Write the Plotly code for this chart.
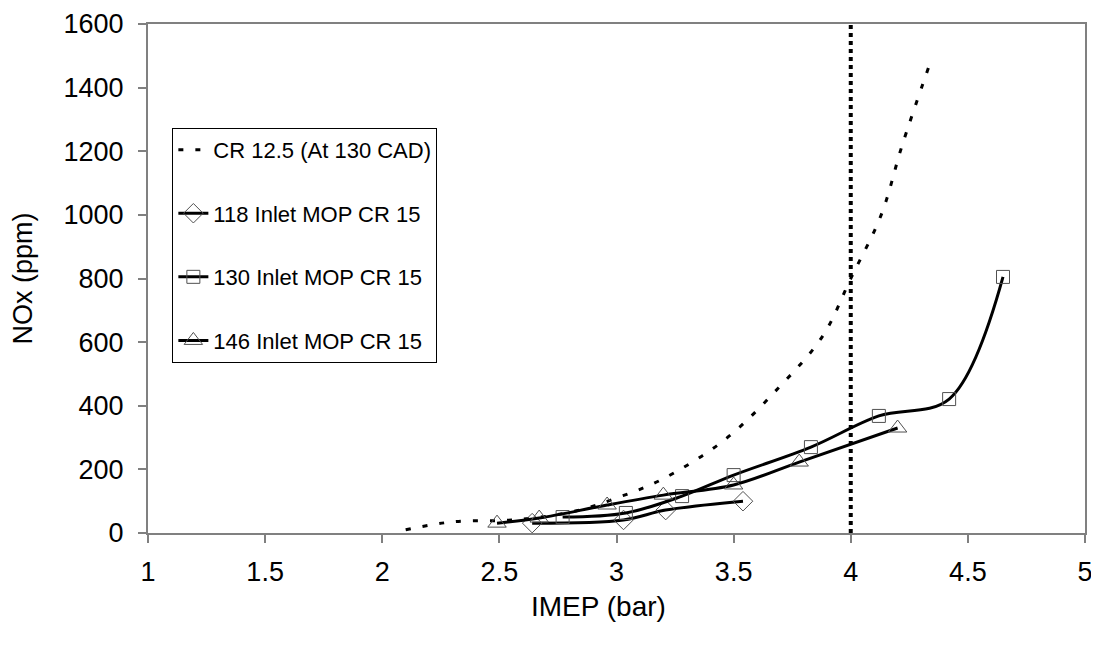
import plotly.graph_objects as go

# CR 12.5 (At 130 CAD) - smoothed dashed curve
cr125_x = [2.10, 2.30, 2.58, 2.83, 3.00, 3.19, 3.46, 3.69, 3.88, 4.00, 4.13, 4.22, 4.34]
cr125_y = [10, 35, 42, 70, 110, 167, 292, 455, 619, 800, 1000, 1220, 1480]

# 118 Inlet MOP CR 15 (diamonds)
s118_x = [2.64, 3.03, 3.21, 3.54]
s118_y = [31, 41, 72, 100]

# 130 Inlet MOP CR 15 (squares)
s130_x = [2.77, 3.04, 3.28, 3.50, 3.83, 4.12, 4.42, 4.65]
s130_y = [50, 63, 116, 182, 270, 368, 421, 805]

# 146 Inlet MOP CR 15 (triangles)
s146_x = [2.49, 2.67, 2.96, 3.20, 3.50, 3.78, 4.20]
s146_y = [31, 47, 88, 119, 151, 223, 330]

# vertical reference line
vline_x = [4, 4]
vline_y = [0, 1600]

x_ticks = [1, 1.5, 2, 2.5, 3, 3.5, 4, 4.5, 5]
y_ticks = [0, 200, 400, 600, 800, 1000, 1200, 1400, 1600]

FONT = "Liberation Sans, Arial, sans-serif"
mk_line = dict(color="#505050", width=1)

fig = go.Figure()
fig.add_trace(go.Scatter(x=vline_x, y=vline_y, mode="lines", showlegend=False,
                         line=dict(color="black", width=4, dash="dot"), hoverinfo="skip"))
fig.add_trace(go.Scatter(x=cr125_x, y=cr125_y, mode="lines", name="CR 12.5 (At 130 CAD)",
                         legendgroup="a", line=dict(color="black", width=3, dash="5px,12px", shape="spline")))
fig.add_trace(go.Scatter(x=s118_x, y=s118_y, mode="lines+markers", name="118 Inlet MOP CR 15",
                         legendgroup="b", line=dict(color="black", width=3, shape="spline"),
                         marker=dict(symbol="diamond-open", size=15, color="#505050", line=mk_line)))
fig.add_trace(go.Scatter(x=s130_x, y=s130_y, mode="lines+markers", name="130 Inlet MOP CR 15",
                         legendgroup="c", line=dict(color="black", width=3, shape="spline"),
                         marker=dict(symbol="square-open", size=13, color="#505050", line=mk_line)))
fig.add_trace(go.Scatter(x=s146_x, y=s146_y, mode="lines+markers", name="146 Inlet MOP CR 15",
                         legendgroup="d", line=dict(color="black", width=3, shape="spline"),
                         marker=dict(symbol="triangle-up-open", size=16, color="#505050", line=mk_line)))

axis_common = dict(showgrid=False, zeroline=False, showline=True, linecolor="#808080", linewidth=2,
                   mirror=True, ticks="outside", ticklen=8, tickcolor="#808080", tickwidth=1.5,
                   automargin=False, tickfont=dict(family=FONT, size=27, color="black"))

fig.update_layout(
    width=1099, height=650,
    margin=dict(l=140, r=22, t=16, b=125),
    paper_bgcolor="white", plot_bgcolor="white",
    font=dict(family=FONT, size=22, color="black"),
    xaxis=dict(range=[1, 5], tickvals=x_ticks, ticktext=[str(v) for v in x_ticks], ticklabelstandoff=6,
               **axis_common),
    yaxis=dict(range=[0, 1600], tickvals=y_ticks, ticktext=[str(v) for v in y_ticks], ticklabelstandoff=9,
               title=dict(text="NOx (ppm)", font=dict(family=FONT, size=27), standoff=26), **axis_common),
    legend=dict(x=0.026, y=0.796, xanchor="left", yanchor="top", bgcolor="white",
                bordercolor="black", borderwidth=1, tracegroupgap=32,
                font=dict(family=FONT, size=22, color="black")),
    annotations=[dict(text="IMEP (bar)", xref="paper", yref="paper", x=0.481, y=-0.145,
                      xanchor="center", yanchor="middle", showarrow=False,
                      font=dict(family=FONT, size=28, color="black"))],
    showlegend=True,
)

fig.write_html("out.html")
